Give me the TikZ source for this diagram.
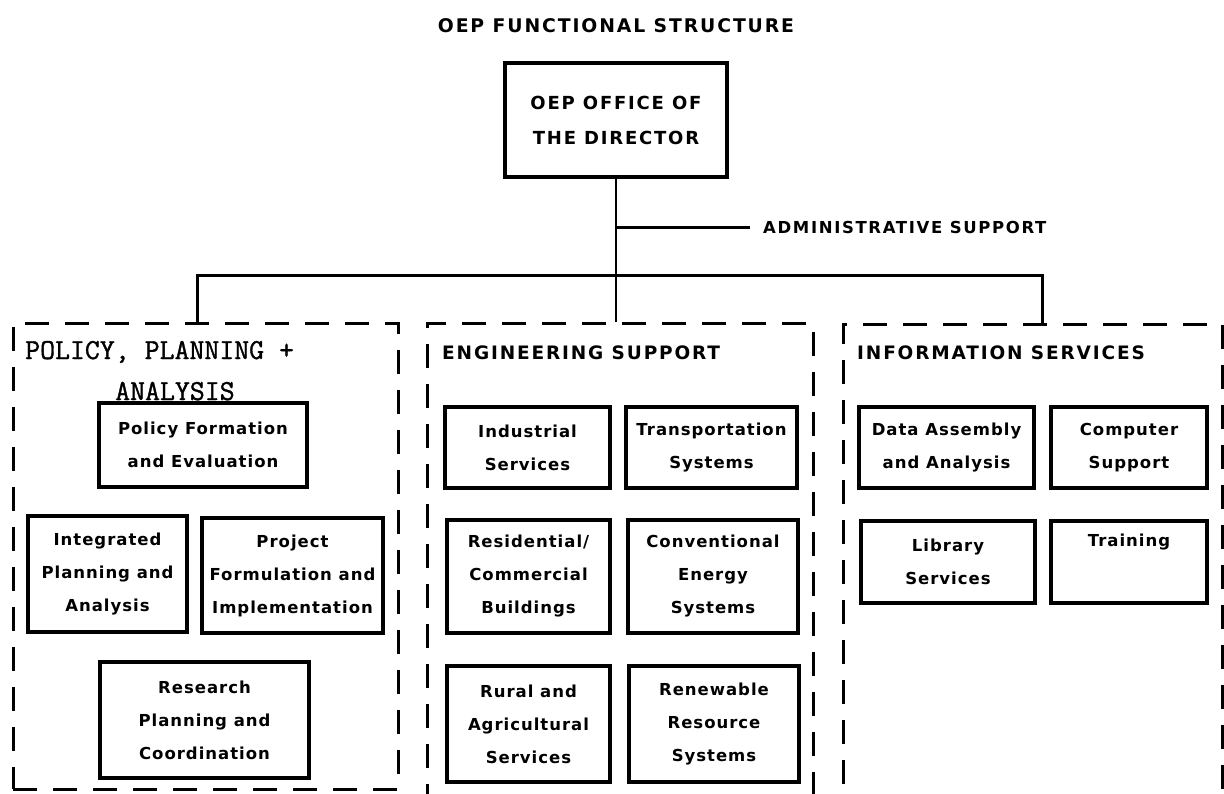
\documentclass[tikz,border=0pt]{standalone}
\usepackage{fontspec}
\newfontfamily\capsfont[LetterSpace=10]{DejaVu Sans}
\newfontfamily\boxfont[LetterSpace=6]{DejaVu Sans}
\newfontfamily\typefont[FakeBold=1.2]{Latin Modern Mono}
\begin{document}
\begin{tikzpicture}[x=1pt,y=-1pt,
  unit/.style={draw, line width=3.2pt, inner sep=0pt, align=center,
    font=\boxfont\bfseries\fontsize{16.5}{33}\selectfont},
  group/.style={draw, line width=3pt, dash pattern=on 24pt off 16pt, inner sep=0pt},
  head/.style={inner sep=0pt, anchor=base west, font=\capsfont\bfseries\fontsize{18.5}{22}\selectfont},
  typed/.style={inner sep=0pt, anchor=base west, font=\typefont\fontsize{29}{34}\selectfont},
  link/.style={line width=3pt},
  trunk/.style={line width=2pt}]
\useasboundingbox (0,0) rectangle (1224,793);
\fill[white] (0,0) rectangle (1224,793);
\clip (0,0) rectangle (1224,793);

% title and director
\node[inner sep=0pt, anchor=base, font=\capsfont\bfseries\fontsize{18.8}{24}\selectfont] (title) at (616,32) {OEP FUNCTIONAL STRUCTURE};
\node[draw, line width=3.2pt, minimum width=222pt, minimum height=114pt, inner sep=0pt, align=center,
  font=\capsfont\bfseries\fontsize{18}{35}\selectfont] (dir) at (616,120) {OEP OFFICE OF\\THE DIRECTOR};
\node[inner sep=0pt, anchor=base west, font=\capsfont\bfseries\fontsize{16.5}{20}\selectfont] (adm) at (763,233) {ADMINISTRATIVE SUPPORT};

% the three dashed groups
\node[group, minimum width=385pt, minimum height=466pt] (polgrp) at (205.5,556) {};
\node[group, minimum width=386pt, minimum height=487pt] (enggrp) at (620,566.5) {};
\node[group, minimum width=379pt, minimum height=486pt] (infgrp) at (1032.5,567) {};

% connectors
\coordinate (admj) at (616,227);
\coordinate (barL) at (197,275);
\coordinate (barR) at (1042,275);
\draw[trunk] (dir.south) -- (dir.south |- enggrp.north);
\draw[link] (admj) -- ([xshift=-13pt]adm.west |- admj);
\draw[link] (polgrp.north -| barL) -- (barL) -- (barR) -- (infgrp.north -| barR);

% group headings
\node[typed] (polh1) at (25,359) {POLICY, PLANNING +};
\node[typed] (polh2) at (115,400) {ANALYSIS};
\node[head] (engh) at (442,359) {ENGINEERING SUPPORT};
\node[head] (infh) at (857,359) {INFORMATION SERVICES};

% policy, planning + analysis
\node[unit, minimum width=208pt, minimum height=84pt] (pfe) at (203,445) {Policy Formation\\and Evaluation};
\node[unit, minimum width=159pt, minimum height=116pt] (ipa) at (107.5,574) {Integrated\\Planning and\\Analysis};
\node[unit, minimum width=181pt, minimum height=115pt] (pfi) at (292.5,575.5) {Project\\Formulation and\\Implementation};
\node[unit, minimum width=209pt, minimum height=116pt] (rpc) at (204.5,720) {Research\\Planning and\\Coordination};

% engineering support
\node[unit, minimum width=165pt, minimum height=81pt] (ind) at (527.5,447.5) {Industrial\\Services};
\node[unit, minimum width=171pt, minimum height=81pt] (tra) at (711.5,447.5) {Transportation\\Systems};
\node[unit, minimum width=163pt, minimum height=113pt] (res) at (528.5,576.5) {Residential/\\Commercial\\Buildings};
\node[unit, minimum width=170pt, minimum height=113pt] (con) at (713,576.5) {Conventional\\Energy\\Systems};
\node[unit, minimum width=163pt, minimum height=116pt] (rur) at (528.5,724) {Rural and\\Agricultural\\Services};
\node[unit, minimum width=170pt, minimum height=116pt] (ren) at (714,724) {Renewable\\Resource\\Systems};

% information services
\node[unit, minimum width=175pt, minimum height=81pt] (dat) at (946.5,447.5) {Data Assembly\\and Analysis};
\node[unit, minimum width=156pt, minimum height=81pt] (com) at (1129,447.5) {Computer\\Support};
\node[unit, minimum width=174pt, minimum height=82pt] (lib) at (948,562) {Library\\Services};
\node[unit, minimum width=156pt, minimum height=82pt] (trn) at (1129,562) {Training\\\strut};
\end{tikzpicture}
\end{document}
